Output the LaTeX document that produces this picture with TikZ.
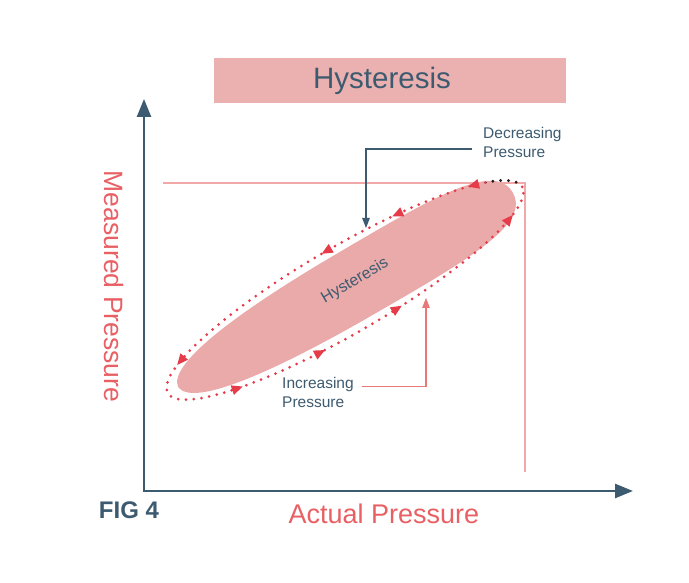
\documentclass[tikz,border=0pt]{standalone}
\usepackage{fontspec}
\setmainfont{Liberation Sans}
\usetikzlibrary{arrows.meta}
\definecolor{slate}{RGB}{61,91,112}
\definecolor{pinkfill}{RGB}{235,176,176}
\definecolor{ellfill}{RGB}{234,170,170}
\definecolor{labelred}{RGB}{232,96,100}
\definecolor{dotred}{RGB}{230,60,74}
\definecolor{dotblack}{RGB}{30,30,30}
\definecolor{pointerpink}{RGB}{232,120,120}
\definecolor{pinkline}{RGB}{240,168,168}
\tikzset{
  axisline/.style={slate, line width=2.6pt},
  loopdots/.style={dotred, line width=3pt, line cap=round, dash pattern=on 0pt off 7.8pt},
  pointer/.style={line width=1.3pt, -{Triangle[length=10pt,width=7.5pt]}},
  smalllabel/.style={slate, inner sep=0pt, align=left, font=\fontsize{15.5}{19}\selectfont},
  axislabel/.style={labelred, inner sep=0pt, font=\fontsize{27}{30}\selectfont},
}
\begin{document}
\begin{tikzpicture}[x=1pt,y=1pt]
\useasboundingbox (0,0) rectangle (689,583);
\fill[white] (0,0) rectangle (689,583);

% title box
\node[fill=pinkfill, minimum width=352pt, minimum height=45pt, inner sep=0pt] (titlebox) at (390,502.5) {};
\node[slate, anchor=base, inner sep=0pt, font=\fontsize{29.5}{32}\selectfont] (titletext) at (382,494) {Hysteresis};

% pink reference lines
\draw[pinkline, line width=2pt] (163,400) -- (525,400) -- (525,111);

% hysteresis band and loop
\begin{scope}[shift={(345,293)}, rotate=30.2]
  \fill[ellfill] (-193,0) .. controls (-191,24) and (-110,35) .. (10,35.5)
    .. controls (125,36) and (194,36) .. (194,0)
    .. controls (194,-36) and (125,-36) .. (10,-35.5)
    .. controls (-110,-35) and (-191,-24) .. (-193,0) -- cycle;
  \draw[loopdots] (0,0) ellipse [x radius=205, y radius=43];
  \foreach \t in {37,66,89,150,226,255,280,330} {
    \pgfmathsetmacro\ang{atan2(43*cos(\t),-205*sin(\t))}
    \fill[dotred, shift={({205*cos(\t)},{43*sin(\t)})}, rotate=\ang] (5.5,0) -- (-5.5,5) -- (-5.5,-5) -- cycle;
  }
\end{scope}
\begin{scope}
  \clip (486,394) rectangle (520,406);
  \begin{scope}[shift={(345,293)}, rotate=30.2]
    \draw[loopdots, draw=dotblack] (0,0) ellipse [x radius=205, y radius=43];
  \end{scope}
\end{scope}

\node[slate, rotate=30.5, inner sep=0pt, font=\fontsize{16}{18}\selectfont] (bandlabel) at (355,302) {Hysteresis};

% axes
\coordinate (origin) at (144,92);
\coordinate (ytip) at (144,484);
\coordinate (xtip) at (633,92);
\draw[axisline, {Triangle[length=18pt,width=14pt]}-{Triangle[length=18pt,width=14pt]}] (ytip) -- (origin) -- (xtip);

% axis labels
\node[axislabel, anchor=base] (xlabel) at (384,59) {Actual Pressure};
\node[axislabel, rotate=-90, font=\fontsize{26.5}{30}\selectfont] (ylabel) at (113.5,296.5) {Measured Pressure};
\node[slate, inner sep=0pt, font=\bfseries\fontsize{24}{26}\selectfont] (fig) at (129,72.5) {FIG 4};

% pointer labels
\node[smalllabel, anchor=west] (dec) at (483,441) {Decreasing\\Pressure};
\node[smalllabel, anchor=west] (inc) at (282,190.2) {Increasing\\Pressure};

\coordinate (decfrom) at (472,434);
\coordinate (decto) at (366,355);
\draw[pointer, slate] (decfrom) -| (decto);

\coordinate (incfrom) at (362,196.3);
\coordinate (incto) at (426,285);
\draw[pointer, pointerpink] (incfrom) -| (incto);
\end{tikzpicture}
\end{document}
